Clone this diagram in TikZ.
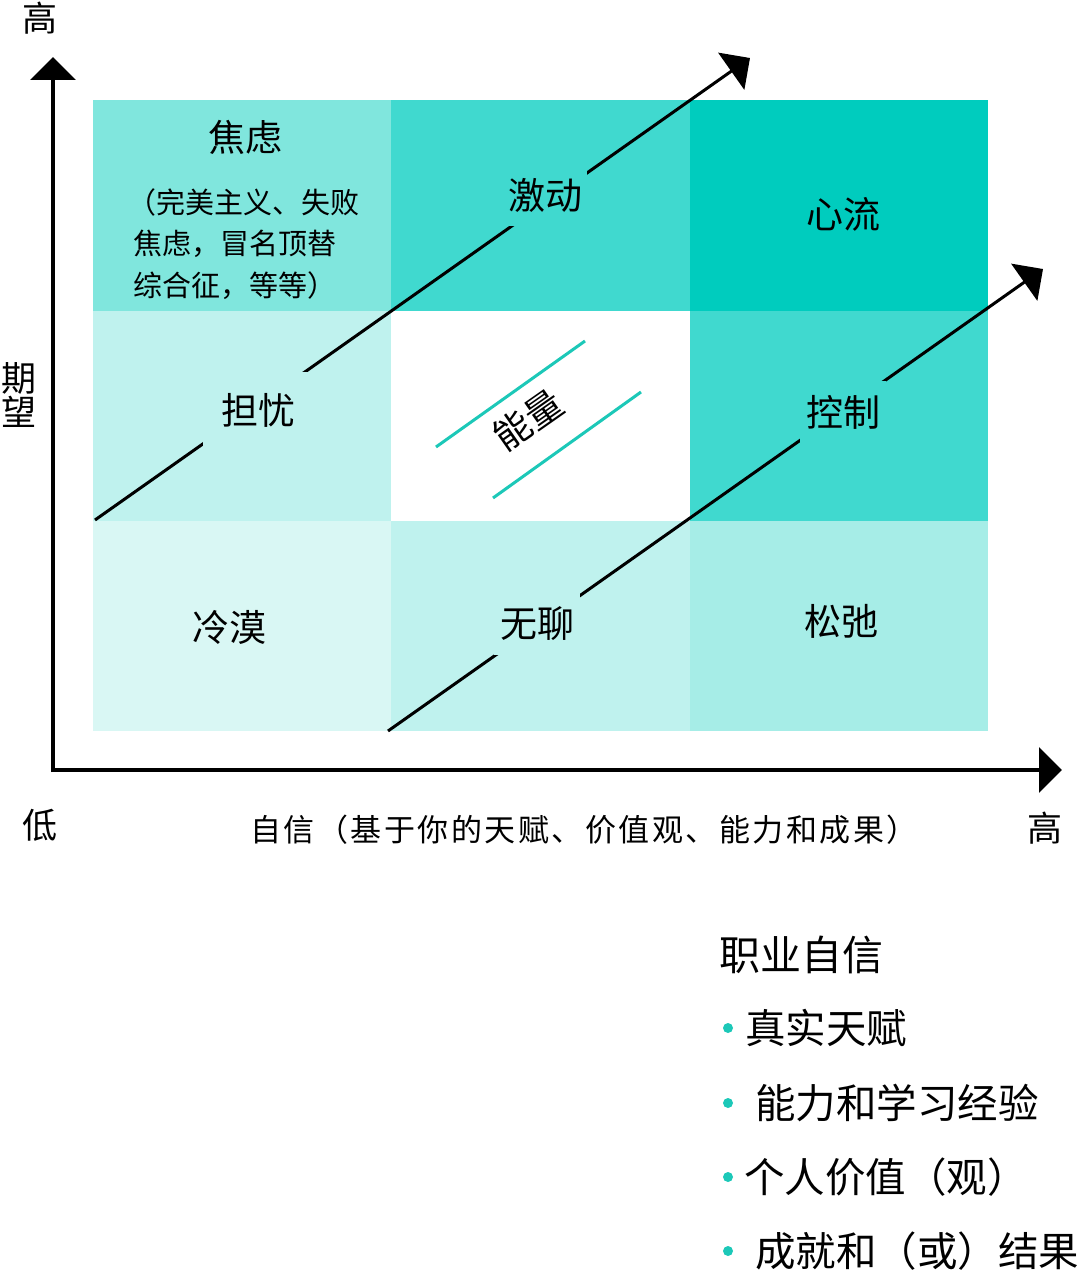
\documentclass[tikz,border=0pt]{standalone}
\usepackage{fontspec}
\setmainfont{Noto Sans CJK SC}
\usetikzlibrary{arrows.meta}
\definecolor{cA}{HTML}{80E6DD}
\definecolor{cB}{HTML}{40D9CF}
\definecolor{cC}{HTML}{00CCBE}
\definecolor{cD}{HTML}{BFF2EE}
\definecolor{cE}{HTML}{D9F7F4}
\definecolor{cF}{HTML}{A6EDE7}
\definecolor{cLine}{HTML}{1CC8B8}
\tikzset{
  lbl/.style={font=\fontsize{37}{40}\selectfont, inner sep=0pt},
  big/.style={font=\fontsize{35}{38}\selectfont, inner sep=0pt},
  axis/.style={line width=4pt, -{Triangle[length=23pt, width=45pt]}},
  diag/.style={line width=3pt, -{Triangle[length=23pt, width=45pt]}},
  bul/.style={font=\fontsize{40.5}{44}\selectfont, inner sep=0pt, anchor=west},
}
\begin{document}
\begin{tikzpicture}[x=1pt, y=-1pt]
\useasboundingbox (0,0) rectangle (1080,1271);
% cells
\fill[cA] (93,100) rectangle (391,311);
\fill[cB] (391,100) rectangle (690,311);
\fill[cC] (690,100) rectangle (988,311);
\fill[cD] (93,311) rectangle (391,521);
\fill[white] (391,311) rectangle (690,521);
\fill[cB] (690,311) rectangle (988,521);
\fill[cE] (93,521) rectangle (391,731);
\fill[cD] (391,521) rectangle (690,731);
\fill[cF] (690,521) rectangle (988,731);
% axes
\coordinate (o) at (53,770);
\coordinate (ytip) at (53,57);
\coordinate (xtip) at (1062,770);
\draw[axis] (53,772) -- (ytip);
\draw[axis] (51,770) -- (xtip);
% diagonal arrows
\coordinate (d1s) at (95,520);
\coordinate (d1e) at (750,58);
\coordinate (d2s) at (388,731);
\coordinate (d2e) at (1043,269);
\draw[diag] (d1s) -- (d1e);
\draw[diag] (d2s) -- (d2e);
% energy lines
\coordinate (e1a) at (436,447);
\coordinate (e1b) at (585,341);
\coordinate (e2a) at (493,498);
\coordinate (e2b) at (641,392);
\draw[cLine, line width=3pt] (e1a) -- (e1b);
\draw[cLine, line width=3pt] (e2a) -- (e2b);
% labels
\node[lbl] (jiaolv) at (245,137) {焦虑};
\node[font=\fontsize{29}{41.5}\selectfont, inner sep=0pt, align=left, anchor=north west] (jiaolvsub) at (127,188) {（完美主义、失败\\\hspace*{6pt}焦虑，冒名顶替\\\hspace*{6pt}综合征，等等）};
\node[lbl, fill=cB, minimum width=84pt, minimum height=62pt] (jidong) at (545,195) {激动};
\node[lbl] (xinliu) at (843,214) {心流};
\node[lbl, fill=cD, minimum width=110pt, minimum height=77pt] (danyou) at (258,410) {担忧};
\node[lbl, rotate=35] (nengliang) at (528,420) {能量};
\node[lbl, fill=cB, minimum width=86pt, minimum height=62pt] (kongzhi) at (843,412) {控制};
\node[lbl] (lengmo) at (229,627) {冷漠};
\node[lbl, fill=cD, minimum width=86pt, minimum height=62pt] (wuliao) at (537,624) {无聊};
\node[lbl] (songchi) at (841,621) {松弛};
% axis labels
\node[big] (gaoy) at (40,18) {高};
\node[big, align=center, font=\fontsize{35}{34}\selectfont] (qiwang) at (19,395) {期\\望};
\node[big] (di) at (40,825) {低};
\node[big] (gaox) at (1045,828) {高};
\node[font=\fontsize{31}{34}\selectfont\addfontfeature{LetterSpace=8}, inner sep=0pt] (xlabel) at (584,830) {自信（基于你的天赋、价值观、能力和成果）};
% list
\node[font=\fontsize{41}{44}\selectfont, inner sep=0pt, anchor=west] (zhiye) at (719,955) {职业自信};
\node[bul] (b1) at (745,1028) {真实天赋};
\node[bul] (b2) at (755,1103) {能力和学习经验};
\node[bul] (b3) at (744,1177) {个人价值（观）};
\node[bul] (b4) at (755,1251) {成就和（或）结果};
\foreach \y in {1028,1103,1177,1251}
  \fill[cLine] (728,\y) circle (5pt);
\end{tikzpicture}
\end{document}
